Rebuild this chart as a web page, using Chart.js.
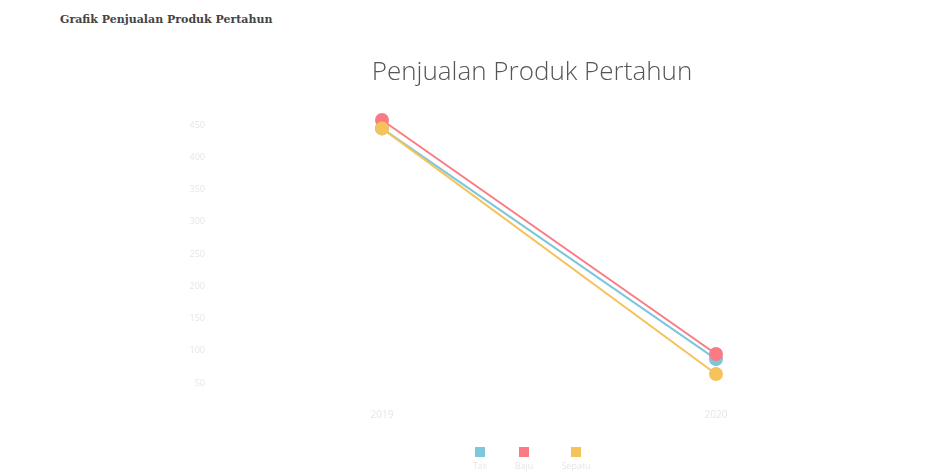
<!DOCTYPE html>
<html>
<head>
<meta charset="utf-8">
<script src="https://cdn.jsdelivr.net/npm/chart.js@4"></script>
<style>
    body { margin: 0; background: #ffffff; width: 934px; height: 472px; overflow: hidden; }
    h4 {
        position: absolute; left: 60px; top: 13px; margin: 0;
        font-family: 'DejaVu Serif', serif; font-weight: bold; font-size: 11px; color: #444444;
    }
    #wrap { position: absolute; left: 0; top: 40px; width: 934px; height: 432px; }
</style>
</head>
<body>
<h4>Grafik Penjualan Produk Pertahun</h4>
<div id="wrap"><canvas id="sales-chart"></canvas></div>
<script>
// Data
const YEARS = ['2019', '2020'];
const PRODUCTS = ['Tas', 'Baju', 'Sepatu'];
const SALES_TAS = [445, 87];
const SALES_BAJU = [458, 95];
const SALES_SEPATU = [445, 64];
const Y_TICKS = [50, 100, 150, 200, 250, 300, 350, 400, 450];

const COLORS = ['#7cc7dc', '#fa7b84', '#f5c25c'];
const FAINT = '#e6e6e6';

/**
 * Legend drawn under the plot: coloured box with the label beneath it
 */
const boxLegend = {
    id: 'boxLegend',
    afterDraw(chart) {
        const ctx = chart.ctx;
        const sets = chart.data.datasets;
        const centers = [480, 524, 576];
        ctx.save();
        ctx.font = "9px 'Open Sans', sans-serif";
        ctx.textAlign = 'center';
        ctx.textBaseline = 'middle';
        sets.forEach((ds, i) => {
            const cx = centers[i];
            ctx.fillStyle = ds.borderColor;
            ctx.fillRect(cx - 5, 407, 10, 10);
            ctx.fillStyle = FAINT;
            ctx.fillText(ds.label, cx, 426);
        });
        ctx.restore();
    }
};

const seriesValues = [SALES_TAS, SALES_BAJU, SALES_SEPATU];
const datasets = PRODUCTS.map((name, i) => ({
    label: name,
    data: seriesValues[i],
    borderColor: COLORS[i],
    backgroundColor: COLORS[i],
    borderWidth: 2,
    pointRadius: 6,
    pointHoverRadius: 6,
    tension: 0,
    clip: false,
    fill: false,
    order: 3 - i   // blue underneath, yellow on top
}));

const ctx = document.getElementById('sales-chart').getContext('2d');
new Chart(ctx, {
    type: 'line',
    data: {
        labels: YEARS,
        datasets: datasets
    },
    options: {
        responsive: true,
        maintainAspectRatio: false,
        animation: false,
        layout: {
            padding: { left: 181, right: 51, top: 0, bottom: 25 }
        },
        plugins: {
            legend: { display: false },
            tooltip: { enabled: false },
            title: {
                display: true,
                text: 'Penjualan Produk Pertahun',
                color: '#555555',
                padding: { top: 17, bottom: 37 },
                font: {
                    family: "'Open Sans', sans-serif",
                    size: 26,
                    weight: '300'
                }
            }
        },
        scales: {
            x: {
                offset: true,
                grid: { display: false, drawTicks: false },
                border: { display: false },
                ticks: {
                    color: FAINT,
                    padding: 26,
                    font: { family: "'Open Sans', sans-serif", size: 10 }
                }
            },
            y: {
                min: 50,
                max: 450,
                afterBuildTicks: axis => {
                    axis.ticks = Y_TICKS.map(v => ({ value: v }));
                },
                afterFit: axis => {
                    axis.width = 34;
                },
                grid: { display: false, drawTicks: false },
                border: { display: false },
                ticks: {
                    color: FAINT,
                    padding: 10,
                    font: { family: "'Open Sans', sans-serif", size: 9 }
                }
            }
        }
    },
    plugins: [boxLegend]
});
</script>
</body>
</html>
